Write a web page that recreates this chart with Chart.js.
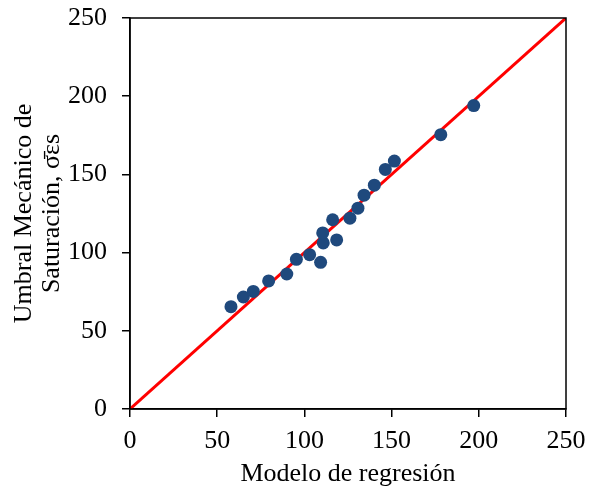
<!DOCTYPE html>
<html><head><meta charset="utf-8">
<script src="https://cdn.jsdelivr.net/npm/chart.js@4.4.1/dist/chart.umd.min.js"></script>
<style>html,body{margin:0;padding:0;background:#fff}#wrap{width:590px;height:498px}</style>
</head><body><div id="wrap"><canvas id="c" width="590" height="498"></canvas></div>
<script>
const modelX = [57.9,65.0,70.7,79.5,89.9,95.4,103.0,109.3,110.8,110.5,118.5,116.2,126.1,130.7,134.2,140.1,146.4,151.6,178.2,197.1];
const umbralY = [65.4,71.6,75.2,81.9,86.3,95.7,98.7,93.8,106.2,112.6,108.1,121.0,122.0,128.4,136.7,143.1,153.2,158.5,175.4,194.0];
const lineX = [0,250];
const lineY = [0,250];
const xTitle = 'Modelo de regresión';
const yTitle = ['Umbral Mecánico de','Saturación, σ\u0304εs'];

const pts = modelX.map((x,i)=>({x:x,y:umbralY[i]}));
const linePts = lineX.map((x,i)=>({x:x,y:lineY[i]}));
const fam = '"Liberation Serif","Times New Roman",serif';
const tickFont = {family:fam, size:26};
const titleFont = {family:fam, size:26, lineHeight:1.05};

const frame = {id:'frame', afterDraw(chart){
  const a=chart.chartArea, ctx=chart.ctx;
  ctx.save(); ctx.strokeStyle='#000'; ctx.lineWidth=1.5;
  ctx.strokeRect(a.left,a.top,a.right-a.left,a.bottom-a.top); ctx.restore();
}};

new Chart(document.getElementById('c'),{
  data:{datasets:[
    {type:'line',data:linePts,borderColor:'#ff0000',borderWidth:3,pointRadius:0,order:2},
    {type:'scatter',data:pts,backgroundColor:'#1f497d',borderColor:'#1f497d',pointRadius:6.5,borderWidth:0,order:1}
  ]},
  options:{
    responsive:false,animation:false,
    layout:{autoPadding:false,padding:{top:18,right:24,left:11,bottom:10}},
    plugins:{legend:{display:false},tooltip:{enabled:false}},
    scales:{
      x:{type:'linear',min:0,max:250,
        afterFit(s){ s.height = 79; s.paddingLeft = 0; s.paddingRight = 0; },
        ticks:{stepSize:50,color:'#000',font:tickFont,padding:9,maxRotation:0},
        grid:{display:true,drawOnChartArea:false,drawTicks:true,tickLength:8,color:'#000',lineWidth:1.5},
        border:{display:true,color:'#000',width:1.5},
        title:{display:true,text:xTitle,color:'#000',font:titleFont,padding:{top:2,bottom:0}}},
      y:{type:'linear',min:0,max:250,
        afterFit(s){ s.width = 119; s.paddingTop = 0; s.paddingBottom = 0; },
        ticks:{stepSize:50,color:'#000',font:tickFont,padding:15},
        grid:{display:true,drawOnChartArea:false,drawTicks:true,tickLength:8,color:'#000',lineWidth:1.5},
        border:{display:true,color:'#000',width:1.5},
        title:{display:true,text:yTitle,color:'#000',font:titleFont,padding:{top:0,bottom:4}}}
    }
  },
  plugins:[frame]
});
</script></body></html>
